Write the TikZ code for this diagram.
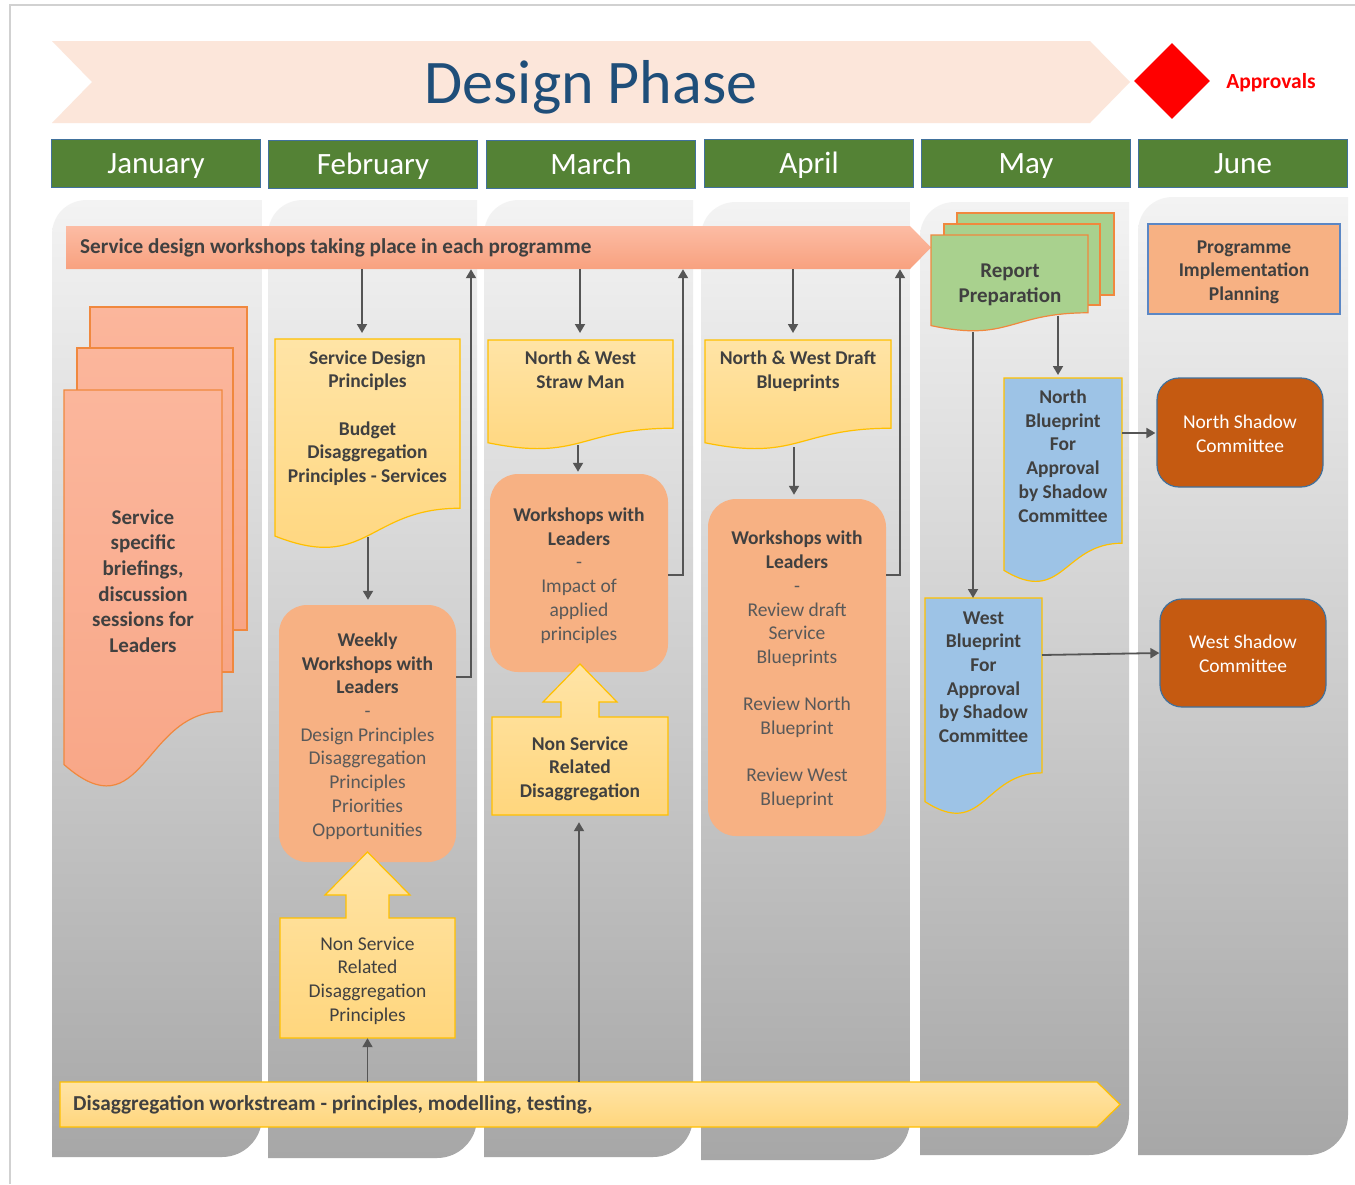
\documentclass[tikz,border=0pt]{standalone}
\usepackage{fontspec}
\setmainfont{Carlito}
\usetikzlibrary{arrows.meta,shapes.geometric}
\definecolor{phasefill}{HTML}{FCE6DA}
\definecolor{phasetext}{HTML}{1F4E79}
\definecolor{monthgreen}{HTML}{548235}
\definecolor{monthline}{HTML}{41719C}
\definecolor{laneT}{HTML}{F3F3F3}
\definecolor{laneB}{HTML}{A7A7A7}
\definecolor{pinkT}{HTML}{FCBCA4}
\definecolor{pinkB}{HTML}{F8A17F}
\definecolor{salmonT}{HTML}{FBB69C}
\definecolor{salmonB}{HTML}{F8A585}
\definecolor{orangeline}{HTML}{F0883E}
\definecolor{yelT}{HTML}{FFE4A6}
\definecolor{yelB}{HTML}{FFD67D}
\definecolor{gold}{HTML}{FFC000}
\definecolor{wsorange}{HTML}{F7B183}
\definecolor{greendoc}{HTML}{A9D18E}
\definecolor{bluedoc}{HTML}{9DC3E6}
\definecolor{shadowfill}{HTML}{C55A11}
\definecolor{progline}{HTML}{5B87C5}
\definecolor{darktext}{HTML}{404040}
\definecolor{midtext}{HTML}{595959}
\definecolor{arrowgray}{HTML}{555555}
\newcommand\lanebox[4]{\shade[lanefill] (#1,#4) -- (#1,#2+35) .. controls (#1,#2+15) and (#1+15,#2) .. (#1+35,#2) -- (#3,#2) -- (#3,#4-40) .. controls (#3,#4-18) and (#3-18,#4) .. (#3-40,#4) -- cycle;}
\newcommand\docshape[5]{\path[#5] (#1,#3) -- (#2,#3) -- (#2,#3+0.802*#4) .. controls ({(#1+#2)/2},#3+0.802*#4) and ({(#1+#2)/2},#3+1.1075*#4) .. (#1,#3+0.934*#4) -- cycle;}
\newcommand\boldline[1]{\textcolor{darktext}{\textbf{#1}}}
\newcommand\topstr{\rule{0pt}{21.5pt}}
\newcommand\botstr{\rule[-6pt]{0pt}{0pt}}
\begin{document}
\begin{tikzpicture}[x=1pt,y=-1pt,
  lanefill/.style={top color=laneT, bottom color=laneB},
  boldtxt/.style={align=center, inner sep=0pt, text=darktext, font=\fontsize{19.5}{23.7}\selectfont\bfseries},
  regtxt/.style={align=center, inner sep=0pt, text=midtext, font=\fontsize{19.5}{23.7}\selectfont},
  bigtxt/.style={align=center, inner sep=0pt, text=darktext, font=\fontsize{21}{25.6}\selectfont\bfseries},
  month/.style={draw=monthline, line width=1pt, fill=monthgreen, text=white, font=\fontsize{31}{37}\selectfont, minimum width=209pt, minimum height=48pt, inner sep=0pt, text height=24pt, text depth=4pt},
  wsbox/.style={regtxt, fill=wsorange, rounded corners=28pt},
  shadowbox/.style={regtxt, text=white, fill=shadowfill, draw=monthline, line width=1.2pt, rounded corners=22pt},
  yeldoc/.style={top color=yelT, bottom color=yelB, draw=gold, line width=1.2pt},
  salmondoc/.style={top color=salmonT, bottom color=salmonB, draw=orangeline, line width=1.2pt},
  greenbox/.style={fill=greendoc, draw=orangeline, line width=1.2pt},
  bluebox/.style={fill=bluedoc, draw=gold, line width=1.2pt},
  arr/.style={draw=arrowgray, line width=1.8pt, -{Triangle[length=9pt,width=10pt]}}
]
\useasboundingbox (0,0) rectangle (1355,1184);
\fill[white] (0,0) rectangle (1355,1184);
\draw[black!18, line width=1.2pt] (10,1184) -- (10,5) -- (1355,5);

% lanes
\lanebox{52}{200}{262}{1157}
\lanebox{268}{200}{477}{1158}
\lanebox{484}{200}{693}{1157}
\lanebox{701}{202}{910}{1160}
\lanebox{920}{202}{1129}{1155}
\lanebox{1138}{197}{1348}{1155}

% phase header
\fill[phasefill] (52,41) -- (1090,41) -- (1130,82) -- (1090,123) -- (52,123) -- (92,82) -- cycle;
\node[text=phasetext, font=\fontsize{62}{70}\selectfont, inner sep=0pt] (phase) at (591,87) {Design Phase};
\node[diamond, aspect=1, fill=red, minimum width=76pt, minimum height=76pt, inner sep=0pt] (apprdiamond) at (1172,81) {};
\node[text=red, font=\fontsize{21.5}{25}\selectfont\bfseries, inner sep=0pt] (apprtext) at (1271,83) {Approvals};

% months
\node[month] (jan) at (156,163) {January};
\node[month] (feb) at (373,164.5) {February};
\node[month] (mar) at (591,164.5) {March};
\node[month] (apr) at (809,163) {April};
\node[month] (may) at (1026,163) {May};
\node[month] (jun) at (1243,163) {June};

% service bar
\shade[top color=pinkT, bottom color=pinkB] (66,226) -- (910,226) -- (931,247.5) -- (910,269) -- (66,269) -- cycle;
\node[anchor=west, inner xsep=14pt, inner ysep=0pt, minimum height=43pt, text=darktext, font=\fontsize{21.2}{25}\selectfont\bfseries] (svcbar) at (66,247.5) {Service design workshops taking place in each programme};

% disaggregation bar
\shade[top color=yelT, bottom color=yelB, draw=gold, line width=1.2pt] (60,1082) -- (1097,1082) -- (1120,1104.5) -- (1097,1127) -- (60,1127) -- cycle;
\node[anchor=west, inner xsep=13pt, inner ysep=0pt, minimum height=45pt, text=darktext, font=\fontsize{21.3}{25}\selectfont\bfseries] (dbar) at (60,1104.5) {Disaggregation workstream - principles, modelling, testing,};

% January stack
\path[salmondoc] (90,307) rectangle (247,630);
\path[salmondoc] (77,348) rectangle (233,672);
\docshape{64}{222}{390}{401}{salmondoc}
\node[bigtxt] (jandoc) at (143,581) {Service\\specific\\briefings,\\discussion\\sessions for\\Leaders};

% February
\docshape{275}{460}{339}{211}{yeldoc}
\node[boldtxt] (febdoc) at (367.5,418) {Service Design\\Principles\\\mbox{}\\Budget\\Disaggregation\\Principles - Services};
\node[wsbox, minimum width=177pt, minimum height=257pt] (weekly) at (367.5,733.5) {\topstr\boldline{Weekly}\\\boldline{Workshops with}\\\boldline{Leaders}\\-\\Design Principles\\Disaggregation\\Principles\\Priorities\\Opportunities\botstr};
\path[yeldoc] (280,918) -- (346,918) -- (346,895) -- (325,895) -- (367.5,852) -- (410,895) -- (389,895) -- (389,918) -- (455,918) -- (455,1038) -- (280,1038) -- cycle;
\node[regtxt, text=darktext, minimum width=175pt, minimum height=120pt] (nsfeb) at (367.5,978) {\topstr Non Service\\Related\\Disaggregation\\Principles\botstr};

% March
\docshape{488}{673}{340}{110}{yeldoc}
\node[boldtxt] (mardoc) at (580.5,370) {North \& West\\Straw Man};
\node[wsbox, minimum width=178pt, minimum height=198pt] (marws) at (579,573) {\topstr\boldline{Workshops with}\\\boldline{Leaders}\\-\\Impact of\\applied\\principles\botstr};
\path[yeldoc] (492,717) -- (561,717) -- (561,702) -- (543,702) -- (580,664) -- (617,702) -- (599,702) -- (599,717) -- (668,717) -- (668,815) -- (492,815) -- cycle;
\node[boldtxt, minimum width=176pt, minimum height=98pt] (marns) at (580,766) {\topstr Non Service\\Related\\Disaggregation\botstr};

% April
\docshape{705}{891}{340}{110}{yeldoc}
\node[boldtxt] (aprdoc) at (798,371) {North \& West Draft\\Blueprints};
\node[wsbox, minimum width=178pt, minimum height=337pt] (aprws) at (797,667.5) {\topstr\boldline{Workshops with}\\\boldline{Leaders}\\-\\Review draft\\Service\\Blueprints\\\mbox{}\\Review North\\Blueprint\\\mbox{}\\Review West\\Blueprint\botstr};

% May
\path[greenbox] (957,213) rectangle (1114,295);
\path[greenbox] (944,224) rectangle (1100,305);
\docshape{931}{1088}{235}{97}{greenbox}
\node[bigtxt] (rp) at (1010,285) {Report\\Preparation};
\docshape{1004}{1122}{378}{206}{bluebox}
\node[boldtxt] (northbp) at (1063,456) {North\\Blueprint\\For\\Approval\\by Shadow\\Committee};
\docshape{925}{1042}{598}{218}{bluebox}
\node[boldtxt] (westbp) at (983.5,677) {West\\Blueprint\\For\\Approval\\by Shadow\\Committee};

% June
\node[boldtxt, fill=wsorange, draw=progline, line width=1.2pt, minimum width=192pt, minimum height=90pt] (prog) at (1244,269) {\topstr Programme\\Implementation\\Planning\botstr};
\node[shadowbox, minimum width=166pt, minimum height=109pt] (northsc) at (1240,432.5) {\topstr North Shadow\\Committee\botstr};
\node[shadowbox, minimum width=166pt, minimum height=108pt] (westsc) at (1243,653) {\topstr West Shadow\\Committee\botstr};

% connectors
\coordinate (c1) at (362,333);
\draw[arr] (c1 |- svcbar.south) -- (c1);
\coordinate (c2) at (368,537);
\draw[arr, shorten >=5pt] (c2) -- (c2 |- weekly.north);
\coordinate (c3) at (471,0);
\draw[arr] ([yshift=56.5pt]weekly.east) -| (c3 |- svcbar.south);
\draw[arr] (nsfeb.south |- dbar.north) -- (nsfeb.south);

\coordinate (c6) at (580,333);
\draw[arr] (c6 |- svcbar.south) -- (c6);
\coordinate (c7) at (578,445);
\draw[arr, shorten >=2pt] (c7) -- (c7 |- marws.north);
\coordinate (c8) at (683,0);
\draw[arr] ([yshift=-2pt]marws.east) -| (c8 |- svcbar.south);
\coordinate (c9) at (579,0);
\draw[arr, shorten >=7pt] (c9 |- dbar.north) -- (c9 |- marns.south);

\coordinate (c10) at (793,333);
\draw[arr] (c10 |- svcbar.south) -- (c10);
\coordinate (c11) at (794,447);
\draw[arr, shorten >=4pt] (c11) -- (c11 |- aprws.north);
\coordinate (c12) at (900,0);
\draw[arr] ([yshift=92.5pt]aprws.east) -| (c12 |- svcbar.south);

\coordinate (c13) at (1058,316);
\coordinate (nbtop) at (1058,375);
\draw[arr] (c13) -- (nbtop);
\coordinate (c14) at (973,332);
\coordinate (wbtop) at (973,598);
\draw[arr] (c14) -- (wbtop);
\coordinate (nbright) at (1122,433);
\draw[arr, shorten >=1pt] (nbright) -- (nbright -| northsc.west);
\coordinate (wbright) at (1042,655);
\draw[arr] (wbright) -- (westsc.west);
\end{tikzpicture}
\end{document}
